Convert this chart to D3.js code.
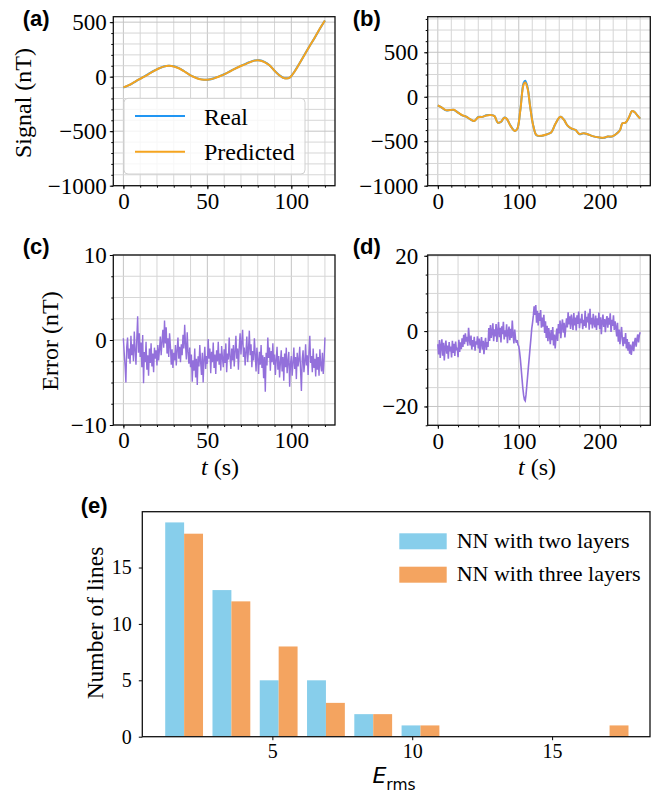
<!DOCTYPE html>
<html><head><meta charset="utf-8">
<script src="https://cdn.jsdelivr.net/npm/d3@7"></script>
<style>
body{margin:0;background:#fff;}
svg{display:block;}
.tick text{font-family:'Liberation Serif','Times New Roman',serif !important;}
</style></head><body>
<svg id="fig" width="662" height="798"></svg>
<script>
// ---------------- DATA ----------------
// (a) signal, line 1
const aTime = [0,3,6,9,12,15,18,21,24,27,30,33,36,39,42,45,48,51,54,57,60,63,66,69,72,75,78,81,84,87,90,93,96,99,102,105,108,111,114,117,120];
const aReal = [-100,-80,-55,-28,-2,25,52,75,93,100,95,78,52,22,-2,-20,-28,-27,-15,3,22,45,70,92,112,132,148,150,135,105,55,12,-14,-8,50,126,205,283,360,440,515];
const aPred = [-98,-80,-54,-28,-3,24,51,75,92,99,94,77,51,21,-3,-21,-29,-27,-16,2,21,44,69,91,111,131,147,149,134,104,54,11,-15,-9,49,125,204,283,360,441,516];
// (b) signal, line 2
const bTime = [0,5,10,15,20,25,30,35,40,45,50,55,60,65,70,74,78,82,85,90,95,98,102,106,108,111,114,118,122,128,135,140,145,150,152,156,160,165,170,175,180,185,190,200,205,210,215,220,225,228,232,236,240,243,247,250];
const bReal = [-97,-123,-153,-150,-148,-179,-209,-224,-254,-272,-228,-226,-209,-205,-216,-291,-283,-235,-246,-328,-384,-366,-142,157,180,100,-104,-328,-433,-440,-421,-403,-310,-235,-224,-261,-321,-358,-373,-421,-410,-421,-440,-459,-462,-448,-448,-421,-377,-298,-291,-235,-160,-172,-216,-246];
const bPred = [-97,-123,-150,-150,-146,-179,-207,-224,-252,-272,-230,-226,-211,-205,-218,-291,-281,-237,-246,-330,-384,-366,-146,140,160,88,-108,-330,-433,-438,-421,-403,-310,-233,-226,-261,-321,-356,-373,-419,-410,-421,-440,-459,-460,-448,-446,-421,-377,-298,-291,-233,-160,-172,-216,-246];
// (c) error, line 1 (sampled every 0.5 s)
const cStep = 0.5;
const cError = [
 0.2,-1.5,-3.0,-5.0,-0.8,0.3,-2.2,-1.0,-2.8,0.5,
 -1.8,-0.5,-2.5,1.0,-1.2,-2.9,0.2,2.8,-1.5,0.8,
 -2.0,-0.3,-3.2,0.6,-5.1,-1.4,-2.6,-0.2,-3.5,-1.8,
 -4.2,-1.0,-2.7,-0.4,-3.1,-1.6,-3.8,-0.9,-2.2,-1.2,
 -3.0,-0.6,-2.4,-1.1,0.4,-1.8,-0.2,1.2,-0.9,2.3,
 -0.4,1.5,-1.6,0.2,-2.0,0.8,-0.7,-2.9,-1.1,-3.3,
 -1.5,-2.4,-0.6,-3.0,-1.2,0.3,-2.2,-0.8,-2.6,-0.5,
 -1.8,0.6,-1.0,1.8,-0.6,-2.3,0.9,-1.4,-2.8,-0.9,
 -3.2,-1.7,-4.9,-2.4,-3.6,-1.0,-4.4,-2.2,-5.3,-1.9,
 -3.1,-0.6,-2.6,-4.1,-1.5,-5.0,-2.3,-0.8,-3.4,-1.9,
 -2.8,0.1,-2.2,-1.0,-3.9,-1.4,-2.6,-0.3,-3.3,-1.7,
 -4.0,-1.2,-2.5,-0.2,-2.9,-1.6,-3.6,-0.7,-2.1,-3.2,
 -1.1,-2.7,-0.4,-3.8,-1.6,-2.3,0.3,-2.0,-3.4,-1.0,
 -2.4,-0.6,-3.1,-1.3,0.5,-2.2,-1.0,-3.5,-0.8,0.8,
 -1.7,-0.2,1.2,-2.0,-0.9,-3.0,-1.4,0.4,-2.6,-1.1,
 1.1,-1.8,-0.5,-3.2,-1.3,-2.4,0.2,-1.6,-3.7,-0.9,
 -2.2,-4.0,-1.4,-2.9,-0.6,-3.3,-1.8,-4.5,-2.0,-6.1,
 -1.5,-3.0,0.3,-2.1,-0.9,-3.6,-1.3,-2.6,-0.4,-2.9,
 -1.7,-4.1,-2.3,-0.8,-3.5,-1.9,-4.4,-2.6,-1.2,-3.7,
 -2.0,-4.8,-1.6,-3.2,-0.9,-3.9,-2.5,-1.4,-5.5,-2.8,
 -1.9,-4.2,-2.7,-0.9,-3.4,-2.0,-4.6,-1.5,-3.1,-2.3,
 -0.8,-3.6,-6.0,-2.2,-1.2,-3.8,-2.6,-0.5,-3.0,-1.8,
 -4.1,-1.4,0.5,-2.7,-1.9,-3.8,-1.0,-3.3,-2.2,-4.3,
 -1.6,-3.5,-2.0,-4.2,-1.1,-2.9,-3.7,-1.5,-4.0,-2.4,
 0.3];
// (d) error, line 2 (sampled every 1 s)
const dStep = 1;
const dError = [
 -3.5,-6.2,-2.4,-7.1,-4.0,-2.2,-6.5,-3.1,-7.8,-4.3,
 -2.5,-6.0,-3.8,-7.3,-2.9,-5.4,-4.1,-7.0,-2.6,-5.8,
 -3.4,-6.6,-2.8,-5.1,-4.4,-6.9,-2.3,-5.5,-3.0,-4.8,
 -1.9,-4.2,-1.0,-3.5,-0.6,-2.8,-1.5,-3.9,0.9,-2.2,
 -3.8,-1.2,-4.9,-2.4,-4.1,-1.5,-5.2,-2.7,-3.6,-1.4,
 -4.6,-2.0,-5.8,-3.1,-1.6,-4.9,-2.6,-6.1,-3.3,-1.8,
 -5.0,-2.9,-4.2,0.8,-2.6,1.6,-1.8,-0.4,2.1,-2.7,
 0.5,-1.4,1.9,-2.9,-0.2,2.4,-1.6,0.9,-3.0,1.3,
 -0.8,2.5,-2.2,0.2,-1.5,1.8,-3.2,-0.3,1.2,-2.4,
 0.6,-1.8,2.8,-1.0,-3.3,0.4,-2.0,-3.1,-2.4,-3.6,
 -4.0,-5.5,-7.5,-10.0,-12.6,-15.1,-17.0,-18.2,-18.5,-16.8,
 -14.3,-11.8,-9.3,-6.9,-4.4,-2.0,0.6,2.2,4.1,6.6,
 4.3,6.9,2.2,5.4,1.5,4.8,2.7,5.6,0.9,3.6,
 1.2,4.3,-0.5,2.6,-1.8,1.4,-2.7,0.8,-1.2,-3.5,
 0.3,-2.4,1.1,-3.8,-0.9,-4.6,-1.5,0.7,-2.6,1.9,
 -0.6,2.8,-1.9,1.3,3.1,-0.4,2.2,-1.7,0.9,3.4,
 1.0,5.0,1.8,3.9,0.6,4.4,2.5,0.3,4.8,1.5,
 3.6,0.2,4.2,1.9,5.2,0.8,3.3,2.1,4.6,0.5,
 3.0,1.4,5.4,0.9,3.8,2.3,4.7,0.4,5.9,1.8,
 3.5,0.7,4.6,2.2,1.0,4.1,0.3,3.4,1.6,4.9,
 0.6,3.7,-0.8,2.5,4.4,1.1,3.2,-0.3,2.8,4.0,
 0.9,3.5,1.7,4.7,-0.2,3.0,1.4,4.2,0.3,2.6,
 1.0,-1.4,2.2,-2.8,0.4,-3.5,-0.8,1.1,-2.4,-4.0,
 -1.6,-3.3,-0.5,-4.6,-2.1,-5.2,-2.9,-6.0,-3.6,-6.3,
 -4.4,-2.8,-5.3,-3.0,-1.8,-4.1,-2.2,-0.9,-3.0,-1.0,
 -0.3];
// (e) histogram
const eBinEdges = [1.0,2.69,4.38,6.07,7.76,9.45,11.14,12.83,14.52,16.21,17.9];
const eTwoLayers = [19,13,5,5,2,1,0,0,0,0];
const eThreeLayers = [18,12,8,3,2,1,0,0,0,1];
const eSeries = ["NN with two layers","NN with three layers"];

// tick labels
const abXTicksA = [0,50,100];
const abXTicksB = [0,100,200];
const sigYTicks = [500,0,-500,-1000];
const cYTicks = [10,0,-10];
const dYTicks = [20,0,-20];
const eXTicks = [5,10,15];
const eYTicks = [0,5,10,15];

// ---------------- DRAW ----------------
const svg = d3.select('#fig');
const SERIF = "'Liberation Serif','Times New Roman',serif";
const SANS = "'Liberation Sans',Arial,sans-serif";
const fmt = v => v < 0 ? '\u2212' + Math.abs(v) : String(v);
const C_REAL = '#2196F3', C_PRED = '#F5A41F', C_ERR = '#9370DB';
const C_BLUE = '#87CEEB', C_ORANGE = '#F4A460';

function rangeIn(dom, step, origin) {
  const out = [];
  const s = Math.ceil((dom[0] - origin) / step - 1e-9);
  for (let k = s; origin + k * step <= dom[1] + 1e-9; k++) out.push(origin + k * step);
  return out;
}

function panel(o) {
  const x = d3.scaleLinear().domain(o.xDom).range([o.x0, o.x1]);
  const y = d3.scaleLinear().domain(o.yDom).range([o.y1, o.y0]);
  const g = svg.append('g');
  if (o.grid) {
    const xm = rangeIn(o.xDom, o.xMinor, 0), ym = rangeIn(o.yDom, o.yMinor, 0);
    const gg = g.append('g');
    gg.selectAll('line.gx').data(xm).join('line')
      .attr('x1', d => x(d)).attr('x2', d => x(d)).attr('y1', o.y0).attr('y2', o.y1)
      .attr('stroke', d => o.xTicks.includes(Math.round(d*1000)/1000) ? '#c4c4c4' : '#d6d6d6').attr('stroke-width', 1);
    gg.selectAll('line.gy').data(ym).join('line')
      .attr('y1', d => y(d)).attr('y2', d => y(d)).attr('x1', o.x0).attr('x2', o.x1)
      .attr('stroke', d => o.yTicks.includes(Math.round(d*1000)/1000) ? '#c4c4c4' : '#d6d6d6').attr('stroke-width', 1);
    g.append('g').attr('transform', `translate(0,${o.y1})`)
      .call(d3.axisBottom(x).tickValues(xm).tickSize(2).tickFormat(''))
      .call(s => s.select('.domain').remove());
    g.append('g').attr('transform', `translate(${o.x0},0)`)
      .call(d3.axisLeft(y).tickValues(ym).tickSize(2).tickFormat(''))
      .call(s => s.select('.domain').remove());
  }
  const ax = g.append('g').attr('transform', `translate(0,${o.y1})`)
    .call(d3.axisBottom(x).tickValues(o.xTicks).tickSize(3.5).tickPadding(o.xPad).tickFormat(fmt));
  const ay = g.append('g').attr('transform', `translate(${o.x0},0)`)
    .call(d3.axisLeft(y).tickValues(o.yTicks).tickSize(3.5).tickPadding(o.yPad).tickFormat(fmt));
  [ax, ay].forEach(a => {
    a.select('.domain').remove();
    a.attr('font-family', SERIF).attr('font-size', o.fs);
    a.selectAll('text').style('font-family', SERIF).style('font-size', o.fs + 'px').attr('fill', '#000');
    a.selectAll('line').attr('stroke', '#000');
  });
  const plot = g.append('g');
  g.append('rect').attr('x', o.x0).attr('y', o.y0).attr('width', o.x1 - o.x0).attr('height', o.y1 - o.y0)
    .attr('fill', 'none').attr('stroke', '#111').attr('stroke-width', 1.3);
  return {g, plot, x, y};
}

function tag(txt, x, y) {
  svg.append('text').attr('x', x).attr('y', y).text(txt)
    .attr('font-family', SANS).attr('font-weight', 'bold').attr('font-size', 22);
}
function ylabel(txt, x, y, fs) {
  svg.append('text').attr('transform', `translate(${x},${y}) rotate(-90)`).attr('text-anchor', 'middle')
    .attr('font-family', SERIF).attr('font-size', fs).text(txt);
}
function tlabel(cx, y) {
  const t = svg.append('text').attr('x', cx).attr('y', y).attr('text-anchor', 'middle')
    .attr('font-family', SERIF).attr('font-size', 24);
  t.append('tspan').attr('font-style', 'italic').text('t');
  t.append('tspan').text(' (s)');
}

// (a)
const pa = panel({x0:113.3,x1:335,y0:16.7,y1:185.7,xDom:[-6,126],yDom:[-1000,550],grid:true,
  xMinor:10,yMinor:100,xTicks:abXTicksA,yTicks:sigYTicks,fs:23,xPad:3.5,yPad:3});
const lineA = d3.line().curve(d3.curveCatmullRom).x((d,i)=>pa.x(aTime[i])).y(d=>pa.y(d));
pa.plot.append('path').attr('d', lineA(aReal)).attr('fill','none').attr('stroke',C_REAL).attr('stroke-width',2);
pa.plot.append('path').attr('d', lineA(aPred)).attr('fill','none').attr('stroke',C_PRED).attr('stroke-width',2);
const lg = svg.append('g');
lg.append('rect').attr('x',124).attr('y',98.3).attr('width',181).attr('height',75.7).attr('rx',4)
  .attr('fill','#fff').attr('fill-opacity',0.8).attr('stroke','#d0d0d0').attr('stroke-width',1);
[['Real',C_REAL,116,124.5],['Predicted',C_PRED,151.7,159.8]].forEach(([t,c,ly,ty])=>{
  lg.append('line').attr('x1',135).attr('x2',185).attr('y1',ly).attr('y2',ly).attr('stroke',c).attr('stroke-width',2);
  lg.append('text').attr('x',204).attr('y',ty).attr('font-family',SERIF).attr('font-size',24).text(t);
});

// (b)
const pb = panel({x0:427.7,x1:650.3,y0:16.7,y1:185.7,xDom:[-12.5,262.5],yDom:[-1000,900],grid:true,
  xMinor:100/6,yMinor:125,xTicks:abXTicksB,yTicks:sigYTicks,fs:23,xPad:3.5,yPad:6});
const lineB = d3.line().curve(d3.curveCatmullRom).x((d,i)=>pb.x(bTime[i])).y(d=>pb.y(d));
pb.plot.append('path').attr('d', lineB(bReal)).attr('fill','none').attr('stroke',C_REAL).attr('stroke-width',2);
pb.plot.append('path').attr('d', lineB(bPred)).attr('fill','none').attr('stroke',C_PRED).attr('stroke-width',2);

// (c)
const pc = panel({x0:113.3,x1:335,y0:255,y1:425,xDom:[-6,126],yDom:[-10,10],grid:true,
  xMinor:10,yMinor:2.5,xTicks:abXTicksA,yTicks:cYTicks,fs:23,xPad:3.5,yPad:3});
pc.plot.append('path').attr('d', d3.line().x((d,i)=>pc.x(i*cStep)).y(d=>pc.y(d))(cError))
  .attr('fill','none').attr('stroke',C_ERR).attr('stroke-width',1.4);

// (d)
const pd = panel({x0:427.7,x1:650.3,y0:255,y1:425.3,xDom:[-12.5,262.5],yDom:[-25,20.2],grid:true,
  xMinor:25,yMinor:5,xTicks:abXTicksB,yTicks:dYTicks,fs:23,xPad:3.5,yPad:6});
pd.plot.append('path').attr('d', d3.line().x((d,i)=>pd.x(i*dStep)).y(d=>pd.y(d))(dError))
  .attr('fill','none').attr('stroke',C_ERR).attr('stroke-width',1.6);

// (e)
const pe = panel({x0:142.3,x1:650,y0:511.7,y1:736.7,xDom:[0.35,18.5],yDom:[0,19.95],grid:false,
  xTicks:eXTicks,yTicks:eYTicks,fs:20,xPad:3.5,yPad:7});
const bins = eTwoLayers.map((v,i)=>({i, lo:eBinEdges[i], hi:eBinEdges[i+1], a:v, b:eThreeLayers[i]}));
[['a',C_BLUE,0.1],['b',C_ORANGE,0.5]].forEach(([k,c,off])=>{
  pe.plot.selectAll(null).data(bins.filter(d=>d[k]>0)).join('rect')
    .attr('x', d=>pe.x(d.lo + off*(d.hi-d.lo)))
    .attr('width', d=>pe.x(d.lo + (off+0.4)*(d.hi-d.lo)) - pe.x(d.lo + off*(d.hi-d.lo)))
    .attr('y', d=>pe.y(d[k])).attr('height', d=>pe.y(0)-pe.y(d[k])).attr('fill', c);
});
[[eSeries[0],C_BLUE,533.3,548],[eSeries[1],C_ORANGE,566.7,581.3]].forEach(([t,c,ry,ty])=>{
  svg.append('rect').attr('x',399.3).attr('y',ry).attr('width',47.4).attr('height',16).attr('fill',c);
  svg.append('text').attr('x',456.7).attr('y',ty).attr('font-family',SERIF).attr('font-size',22).text(t);
});

// labels
tag('(a)',22.7,25.5); tag('(b)',352.7,25.5); tag('(c)',22.7,254); tag('(d)',352.7,254); tag('(e)',80.7,512.5);
ylabel('Signal (nT)',31,103,24);
ylabel('Error (nT)',58,341,24);
ylabel('Number of lines',103,623,23.5);
tlabel(220,475); tlabel(537,475);
const el = svg.append('text').attr('x',394).attr('y',783.3).attr('text-anchor','middle')
  .attr('font-family',"'DejaVu Sans',sans-serif").attr('font-size',22);
el.append('tspan').attr('font-style','italic').text('E');
el.append('tspan').attr('font-size',15.5).attr('dy',7).text('rms');
</script>
</body></html>
